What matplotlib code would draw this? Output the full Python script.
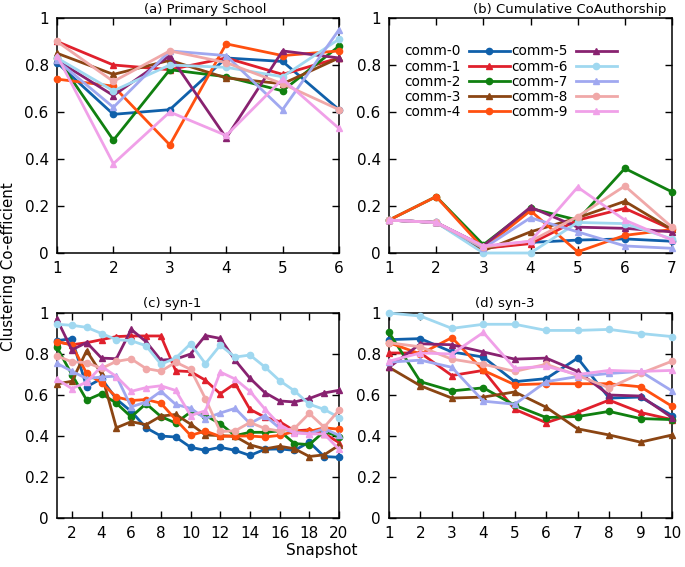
import matplotlib
matplotlib.use("Agg")
import matplotlib.pyplot as plt

W, H = 685, 567

labels = ["comm-%d" % i for i in range(10)]
colors = ["#1060aa", "#e0202c", "#108010", "#8b4513", "#ff5010",
          "#882270", "#a0d8f0", "#a0a8f0", "#f0a8a8", "#f0a0e8"]
markers = ["o", "^", "o", "^", "o", "^", "o", "^", "o", "^"]

# (a) Primary School, snapshots 1..6
primary_x = [1, 2, 3, 4, 5, 6]
primary = [
    [0.81, 0.59, 0.61, 0.83, 0.815, 0.61],
    [0.90, 0.80, 0.78, 0.83, 0.76, 0.83],
    [0.83, 0.48, 0.78, 0.75, 0.69, 0.88],
    [0.85, 0.76, 0.82, 0.745, 0.72, 0.83],
    [0.74, 0.71, 0.46, 0.89, 0.84, 0.86],
    [0.82, 0.67, 0.84, 0.49, 0.86, 0.83],
    [0.83, 0.69, 0.80, 0.79, 0.75, 0.91],
    [0.82, 0.62, 0.86, 0.84, 0.61, 0.95],
    [0.90, 0.73, 0.86, 0.81, 0.72, 0.61],
    [0.84, 0.38, 0.60, 0.50, 0.74, 0.53],
]

# (b) Cumulative CoAuthorship, snapshots 1..7
coauth_x = [1, 2, 3, 4, 5, 6, 7]
coauth = [
    [0.14, 0.13, 0.02, 0.045, 0.055, 0.06, 0.05],
    [0.14, 0.13, 0.02, 0.04, 0.14, 0.19, 0.10],
    [0.14, 0.24, 0.035, 0.19, 0.14, 0.36, 0.26],
    [0.14, 0.13, 0.01, 0.09, 0.15, 0.22, 0.10],
    [0.14, 0.24, 0.02, 0.18, 0.005, 0.075, 0.10],
    [0.14, 0.13, 0.03, 0.195, 0.11, 0.105, 0.09],
    [0.14, 0.13, 0.00, 0.00, 0.13, 0.125, 0.06],
    [0.14, 0.13, 0.02, 0.15, 0.09, 0.03, 0.02],
    [0.14, 0.13, 0.025, 0.05, 0.155, 0.285, 0.11],
    [0.14, 0.13, 0.03, 0.05, 0.28, 0.14, 0.055],
]

# (c) syn-1, snapshots 1..20
syn1_x = list(range(1, 21))
syn1 = [
    [0.865, 0.875, 0.64, 0.68, 0.58, 0.52, 0.44, 0.40, 0.395, 0.345,
     0.33, 0.345, 0.33, 0.305, 0.335, 0.337, 0.33, 0.37, 0.30, 0.296],
    [0.86, 0.845, 0.855, 0.87, 0.885, 0.888, 0.888, 0.888, 0.718, 0.714,
     0.672, 0.606, 0.656, 0.53, 0.492, 0.47, 0.425, 0.43, 0.412, 0.368],
    [0.832, 0.70, 0.575, 0.607, 0.56, 0.493, 0.558, 0.495, 0.463, 0.517,
     0.50, 0.46, 0.402, 0.418, 0.418, 0.425, 0.363, 0.358, 0.422, 0.397],
    [0.654, 0.667, 0.816, 0.703, 0.44, 0.47, 0.455, 0.497, 0.505, 0.458,
     0.405, 0.402, 0.398, 0.357, 0.337, 0.35, 0.338, 0.30, 0.308, 0.355],
    [0.86, 0.845, 0.705, 0.66, 0.59, 0.573, 0.578, 0.56, 0.48, 0.403,
     0.424, 0.398, 0.40, 0.40, 0.395, 0.403, 0.422, 0.422, 0.44, 0.433],
    [0.969, 0.82, 0.856, 0.78, 0.777, 0.92, 0.86, 0.77, 0.775, 0.80,
     0.89, 0.876, 0.77, 0.682, 0.612, 0.571, 0.566, 0.583, 0.61, 0.623],
    [0.945, 0.94, 0.93, 0.90, 0.87, 0.865, 0.84, 0.75, 0.78, 0.85,
     0.753, 0.843, 0.785, 0.795, 0.737, 0.67, 0.62, 0.555, 0.53, 0.49],
    [0.754, 0.716, 0.68, 0.688, 0.692, 0.542, 0.566, 0.618, 0.554, 0.535,
     0.485, 0.512, 0.535, 0.461, 0.50, 0.438, 0.418, 0.412, 0.436, 0.403],
    [0.79, 0.762, 0.758, 0.73, 0.764, 0.776, 0.729, 0.716, 0.76, 0.725,
     0.582, 0.422, 0.425, 0.466, 0.437, 0.424, 0.437, 0.51, 0.443, 0.526],
    [0.677, 0.631, 0.663, 0.74, 0.69, 0.618, 0.636, 0.645, 0.622, 0.50,
     0.523, 0.712, 0.678, 0.618, 0.532, 0.455, 0.415, 0.41, 0.41, 0.335],
]

# (d) syn-3, snapshots 1..10
syn3_x = list(range(1, 11))
syn3 = [
    [0.87, 0.875, 0.81, 0.785, 0.665, 0.68, 0.78, 0.585, 0.59, 0.50],
    [0.805, 0.805, 0.695, 0.72, 0.53, 0.465, 0.515, 0.575, 0.515, 0.48],
    [0.905, 0.665, 0.62, 0.635, 0.55, 0.49, 0.495, 0.52, 0.485, 0.48],
    [0.735, 0.645, 0.585, 0.59, 0.615, 0.54, 0.435, 0.405, 0.37, 0.405],
    [0.855, 0.80, 0.88, 0.72, 0.65, 0.655, 0.655, 0.655, 0.64, 0.545],
    [0.735, 0.85, 0.845, 0.81, 0.775, 0.78, 0.715, 0.60, 0.595, 0.49],
    [1.0, 0.985, 0.925, 0.945, 0.945, 0.915, 0.915, 0.92, 0.90, 0.885],
    [0.76, 0.77, 0.735, 0.57, 0.555, 0.665, 0.69, 0.705, 0.715, 0.62],
    [0.855, 0.835, 0.775, 0.75, 0.715, 0.75, 0.695, 0.635, 0.705, 0.765],
    [0.765, 0.805, 0.80, 0.905, 0.73, 0.74, 0.70, 0.72, 0.715, 0.72],
]


def box(l, t, r, b):
    return [l / W, 1 - b / H, (r - l) / W, (b - t) / H]


def panel(rect, xs, series, xlim, xticks):
    ax = fig.add_axes(rect)
    for i, ys in enumerate(series):
        ax.plot(xs, ys, color=colors[i], marker=markers[i], markersize=4.5,
                linewidth=2.0, label=labels[i], clip_on=False, zorder=3)
    ax.set_xlim(*xlim)
    ax.set_ylim(0, 1)
    ax.set_xticks(xticks)
    ax.set_yticks([0, 0.2, 0.4, 0.6, 0.8, 1.0])
    ax.set_yticklabels(["0", "0.2", "0.4", "0.6", "0.8", "1"])
    ax.tick_params(direction="in", length=5, width=1, top=True, right=True,
                   labelsize=11, pad=6, colors="black")
    for s in ax.spines.values():
        s.set_linewidth(1.1)
    return ax


fig = plt.figure(figsize=(W / 100, H / 100), dpi=100)

ax_a = panel(box(57, 18, 339, 253), primary_x, primary, (1, 6), primary_x)
ax_b = panel(box(389, 18, 672, 253), coauth_x, coauth, (1, 7), coauth_x)
ax_c = panel(box(57, 313, 339, 518), syn1_x, syn1, (1, 20), list(range(2, 21, 2)))
ax_d = panel(box(389, 313, 672, 518), syn3_x, syn3, (1, 10), syn3_x)

ax_b.legend(ncol=2, markerfirst=False, frameon=False, fontsize=9.8,
            handlelength=3.0, handletextpad=0.6, columnspacing=0.1,
            labelspacing=0.08, borderaxespad=0.0,
            loc="upper left", bbox_to_anchor=((399 - 389) / 283, (253 - 39) / 235))

fig.text(205 / W, 1 - 10 / H, "(a) Primary School", ha="center", va="center", fontsize=9.5)
fig.text(570 / W, 1 - 10 / H, "(b) Cumulative CoAuthorship", ha="center", va="center", fontsize=9.5)
fig.text(172 / W, 1 - 303 / H, "(c) syn-1", ha="center", va="center", fontsize=9.5)
fig.text(505 / W, 1 - 303 / H, "(d) syn-3", ha="center", va="center", fontsize=9.5)
fig.text(9 / W, 1 - 267 / H, "Clustering Co-efficient", rotation=90,
         ha="center", va="center", fontsize=10.8)
fig.text(322 / W, 1 - 551 / H, "Snapshot", ha="center", va="center", fontsize=11)

fig.savefig("out.png", dpi=100)
